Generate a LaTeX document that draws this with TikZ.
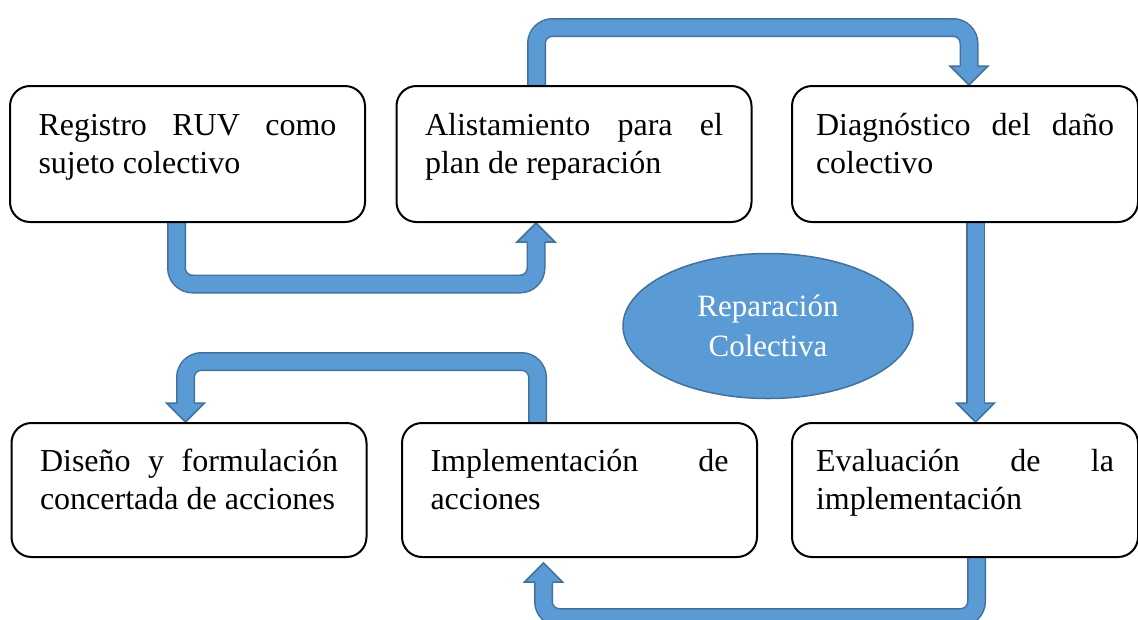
\documentclass[tikz,border=0pt]{standalone}
\usepackage{fontspec}
\setmainfont{Liberation Serif}
\usetikzlibrary{shapes.geometric,backgrounds,calc}
\definecolor{pipeblue}{HTML}{5B9BD5}
\definecolor{pipeedge}{HTML}{41719C}
\newcommand\stagetext[1]{\parbox[c][91pt][t]{298pt}{\tolerance=10000\hyphenpenalty=10000\hbadness=10000\strut#1}}

\begin{document}
\begin{tikzpicture}[x=1pt,y=-1pt]
  \tikzset{stage/.style={draw,line width=2pt,rounded corners=20pt,fill=white,minimum width=355pt,minimum height=136pt,inner sep=0pt,font=\fontsize{32}{38}\selectfont},
    pipe/.style={draw=pipeedge,line width=1.5pt,double=pipeblue,double distance=16pt,rounded corners=16pt},
    pipehead/.style={fill=pipeblue,draw=pipeedge,line width=1.5pt,line join=miter,sharp corners}}
  \useasboundingbox (0,0) rectangle (1138,619);
  \node(reg)[stage] at (187.5,154){\stagetext{Registro RUV como\linebreak sujeto colectivo}};
  \node(alist)[stage] at (574,154){\stagetext{Alistamiento para el\linebreak plan de reparación}};
  \node(diag)[stage,minimum width=346pt] at (965,154){\stagetext{Diagnóstico del daño\linebreak colectivo}};
  \node(disen)[stage,minimum height=134pt] at (189,490){\stagetext{Diseño y formulación\linebreak concertada de acciones}};
  \node(impl)[stage,minimum height=134pt] at (579.5,490){\stagetext{Implementación de\linebreak acciones}};
  \node(eval)[stage,minimum width=346pt,minimum height=134pt] at (965,490){\stagetext{Evaluación de la\linebreak implementación}};
  \node(centro)[ellipse,fill=pipeblue,draw=pipeedge,line width=1.5pt,minimum width=290pt,minimum height=145pt,inner sep=0pt,align=center,text=white,font=\fontsize{31}{40}\selectfont] at (768,326){Reparación\\Colectiva};
  \coordinate(tipA) at ([xshift=-38pt]alist.south);
  \coordinate(tipB) at ([xshift=4pt]diag.north);
  \coordinate(tipC) at ([xshift=10.5pt]eval.north);
  \coordinate(tipD) at ([xshift=-36pt,yshift=-5pt]impl.south);
  \coordinate(tipE) at ([xshift=-3.5pt]disen.north);
  \begin{scope}[on background layer]
    \draw[pipe] ([xshift=-11pt]reg.south) -- ++(0,61) -| ($(tipA)+(0,18)$);
    \draw[pipe] ([xshift=-37.5pt]alist.north) -- ++(0,-57.5) -| ($(tipB)+(0,-18)$);
    \draw[pipe] ([xshift=10.5pt]diag.south) -- ($(tipC)+(0,-18)$);
    \draw[pipe] ([xshift=11.5pt]eval.south) -- ++(0,59.5) -| ($(tipD)+(0,18)$);
    \draw[pipe] ([xshift=-42pt]impl.north) -- ++(0,-60.5) -| ($(tipE)+(0,-18)$);
    \foreach\t/\h in {tipA/19,tipB/-19,tipC/-19,tipD/19,tipE/-19}
      \filldraw[pipehead] ($(\t)+(-8.75,\h)$) -- ++(-10.25,0) -- (\t) -- ++(19,\h) -- ++(-10.25,0);
  \end{scope}
\end{tikzpicture}
\end{document}
